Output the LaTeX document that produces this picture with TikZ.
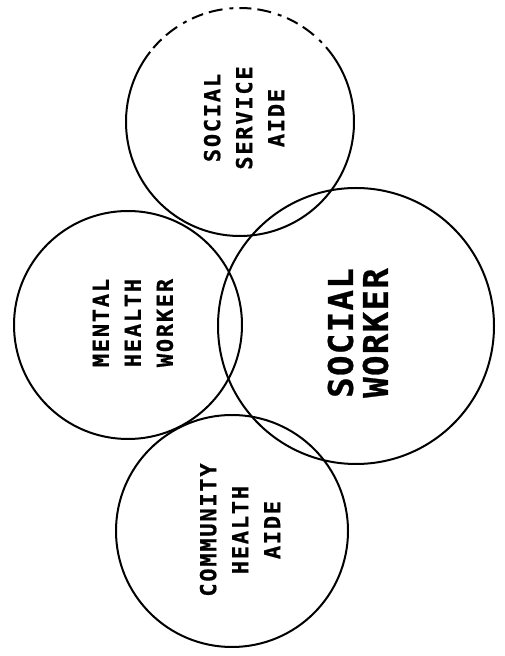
\documentclass[tikz,border=0pt]{standalone}
\usepackage{fontspec}
\newfontfamily\letterfont[LetterSpace=8, FakeBold=0.8]{DejaVu Sans Mono}
\newfontfamily\bigletterfont[LetterSpace=4, FakeBold=0.8]{DejaVu Sans Mono}
\begin{document}
\begin{tikzpicture}[x=1pt,y=1pt,
  ring/.style={circle, draw=black, line width=2pt, inner sep=0pt},
  ghost/.style={circle, inner sep=0pt},
  outline/.style={line width=2pt, draw=black},
  brokenline/.style={line width=2pt, draw=black, dash pattern=on 12pt off 6pt on 4pt off 7pt on 14pt off 6pt},
  lbl/.style={rotate=90, align=center, inner sep=0pt, font=\letterfont\bfseries\fontsize{22}{32}\selectfont},
  biglbl/.style={rotate=90, align=right, inner sep=0pt, font=\bigletterfont\bfseries\fontsize{34}{35}\selectfont}
]
\useasboundingbox (0,0) rectangle (505,656);
% circles
\node[ghost, minimum size=228pt] (ssa) at (240,534) {};
\draw[outline] (ssa.center) ++(142:114) arc[start angle=142, end angle=395, radius=114];
\draw[brokenline] (ssa.center) ++(35:114) arc[start angle=35, end angle=142, radius=114];
\node[ring, minimum size=228pt] (mh) at (128,331) {};
\node[ring, minimum size=276pt] (sw) at (356,330) {};
\node[ring, minimum size=232pt] (cha) at (232,125) {};
% labels
\node[lbl] (ssatext) at (244,538) {SOCIAL\\SERVICE\\AIDE};
\node[lbl] (mhtext) at (133,333) {MENTAL\\HEALTH\\WORKER};
\node[biglbl] (swtext) at (358,323) {SOCIAL\\WORKER};
\node[lbl] (chatext) at (240,126) {COMMUNITY\\HEALTH\\AIDE};
\end{tikzpicture}
\end{document}
